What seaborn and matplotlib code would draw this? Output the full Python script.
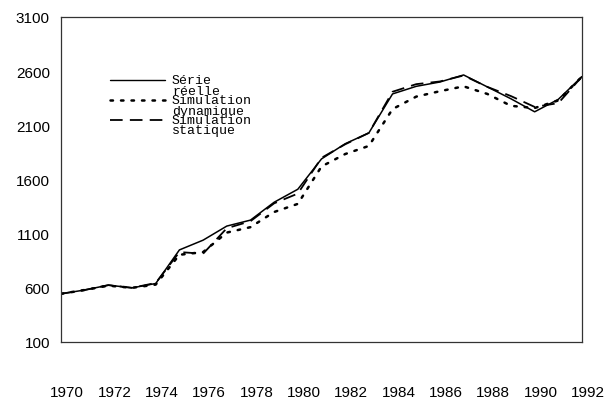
import matplotlib.pyplot as plt
import matplotlib.transforms as mtransforms
import seaborn as sns

plt.switch_backend('Agg')
sns.set_theme(style="white")
plt.rcParams['font.family'] = ['Liberation Sans', 'DejaVu Sans']

# Data
years = list(range(1970, 1993))
reel = [545, 580, 625, 600, 640, 950, 1040, 1170, 1225, 1390, 1510, 1790, 1930, 2030,
        2390, 2460, 2500, 2565, 2455, 2345, 2225, 2340, 2550]
dynamique = [545, 580, 620, 600, 630, 905, 930, 1110, 1160, 1300, 1375, 1720, 1835, 1910,
             2250, 2365, 2415, 2460, 2390, 2280, 2260, 2330, 2550]
statique = [545, 580, 625, 600, 645, 930, 915, 1150, 1215, 1380, 1470, 1800, 1925, 2030,
            2410, 2480, 2505, 2560, 2455, 2370, 2270, 2305, 2550]
labels = ['Série\nréelle', 'Simulation\ndynamique', 'Simulation\nstatique']
yticks = [100, 600, 1100, 1600, 2100, 2600, 3100]

fig = plt.figure(figsize=(6.16, 4.10), dpi=100)
ax = fig.add_axes([61 / 616, 1 - 343 / 410, 521 / 616, 325 / 410])

sns.lineplot(x=years, y=reel, ax=ax, color='black', linewidth=1.1, linestyle='-')
sns.lineplot(x=years, y=dynamique, ax=ax, color='black', linewidth=1.8,
             linestyle=(0, (1, 3.2)), dash_capstyle='round')
sns.lineplot(x=years, y=statique, ax=ax, color='black', linewidth=1.3,
             linestyle=(0, (7, 4)))

ax.set_xlim(1970, 1992)
ax.set_ylim(100, 3100)
ax.set_yticks(yticks)
ax.set_yticklabels([str(v) for v in yticks], fontsize=11)
ax.set_xticks(years)
ax.set_xticklabels([str(y) if y % 2 == 0 else '' for y in years], fontsize=11)
ax.tick_params(axis='x', direction='in', length=4, width=0.8, pad=31, colors='black')
ax.tick_params(axis='y', direction='in', length=3, width=0.8, pad=8, colors='black')
offset = mtransforms.ScaledTranslation(6 / 100, 0, fig.dpi_scale_trans)
for lab in ax.get_xticklabels():
    lab.set_transform(lab.get_transform() + offset)

for s in ax.spines.values():
    s.set_color('#333333')
    s.set_linewidth(0.9)
ax.set_xlabel('')
ax.set_ylabel('')

# hand-drawn legend as in the scan
styles = [dict(linestyle='-', linewidth=1.0),
          dict(linestyle=(0, (1, 3.2)), linewidth=1.8, dash_capstyle='round'),
          dict(linestyle=(0, (7, 4)), linewidth=1.3)]
legend_y = [0.806, 0.745, 0.684]
for lab, st, yy in zip(labels, styles, legend_y):
    ax.plot([0.094, 0.2], [yy, yy], transform=ax.transAxes, color='black', **st)
    ax.text(0.213, yy + 0.018, lab, transform=ax.transAxes, ha='left', va='top',
            fontsize=9.5, family=['Liberation Mono', 'DejaVu Sans Mono'],
            linespacing=0.85, color='black')

plt.savefig('out.png', dpi=100)
plt.close()
